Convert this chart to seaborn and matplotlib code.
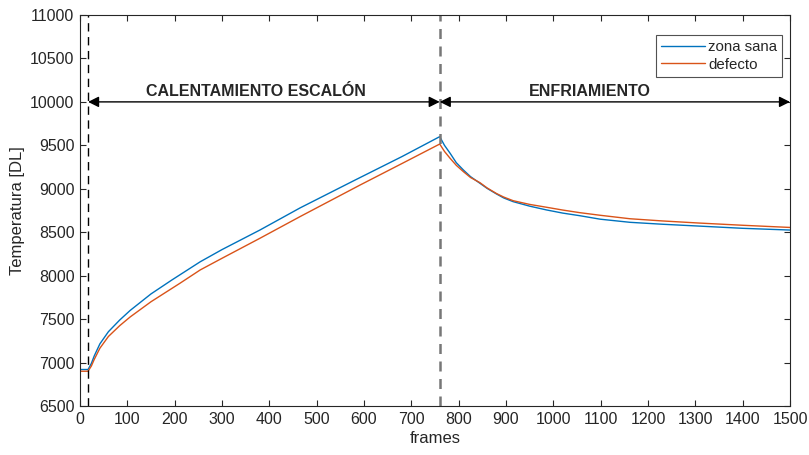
import pandas as pd
import matplotlib
matplotlib.use("Agg")
import matplotlib.pyplot as plt
import seaborn as sns

# values (frames / temperature in DL)
frames_sana = [0, 17, 24, 30, 42, 60, 84, 106, 150, 194, 254, 300, 380, 465, 581, 680, 760,
               770, 782, 795, 810, 825, 845, 860, 880, 895, 915, 950, 986, 1020, 1056, 1099,
               1162, 1230, 1310, 1400, 1500]
temp_sana = [6920, 6920, 6990, 7075, 7215, 7355, 7490, 7600, 7790, 7950, 8160, 8300, 8525,
             8780, 9100, 9370, 9600, 9500, 9408, 9300, 9216, 9140, 9063, 9005, 8940, 8895,
             8852, 8800, 8756, 8720, 8690, 8650, 8614, 8592, 8570, 8545, 8525]

frames_defecto = [0, 17, 24, 30, 42, 60, 84, 106, 150, 211, 254, 300, 380, 465, 592, 680, 760,
                  770, 782, 795, 810, 825, 845, 860, 880, 895, 915, 950, 986, 1020, 1056, 1099,
                  1162, 1230, 1310, 1400, 1500]
temp_defecto = [6900, 6900, 6960, 7035, 7165, 7300, 7425, 7525, 7700, 7912, 8066, 8200, 8430,
                8680, 9044, 9290, 9515, 9430, 9350, 9270, 9197, 9130, 9070, 9010, 8945, 8905,
                8863, 8820, 8787, 8755, 8725, 8695, 8655, 8630, 8605, 8580, 8555]

x_start = 17
x_peak = 760
x_end = 1500
y_arrow = 10000

sana = pd.DataFrame({"frames": frames_sana, "temp": temp_sana})
defecto = pd.DataFrame({"frames": frames_defecto, "temp": temp_defecto})

sns.set_theme(style="ticks")
plt.rcParams['font.family'] = ['Liberation Sans', 'DejaVu Sans']

fig = plt.figure(figsize=(8.09, 4.55), dpi=100)
ax = fig.add_axes([80 / 809, 1 - 406 / 455, 710 / 809, 391 / 455])

sns.lineplot(data=sana, x="frames", y="temp", color="#0072BD", lw=1.0, label="zona sana", ax=ax)
sns.lineplot(data=defecto, x="frames", y="temp", color="#D95319", lw=1.0, label="defecto", ax=ax)

ax.axvline(x_start, color="black", ls=(0, (6, 4)), lw=1.0)
ax.axvline(x_peak, color="#777777", ls=(0, (4, 3)), lw=1.8)

arrow_kw = dict(arrowstyle="<|-|>", color="black", lw=1.0, mutation_scale=16, shrinkA=0, shrinkB=0)
ax.annotate("", xy=(x_start, y_arrow), xytext=(x_peak, y_arrow), arrowprops=arrow_kw)
ax.annotate("", xy=(x_peak, y_arrow), xytext=(x_end, y_arrow), arrowprops=arrow_kw)
ax.text(372, y_arrow + 30, "CALENTAMIENTO ESCALÓN", ha="center", va="bottom", fontsize=11.5,
        fontweight="bold")
ax.text(1078, y_arrow + 30, "ENFRIAMIENTO", ha="center", va="bottom", fontsize=11.5,
        fontweight="bold")

ax.set_xlim(0, 1500)
ax.set_ylim(6500, 11000)
ax.set_xticks(range(0, 1501, 100))
ax.set_yticks(range(6500, 11001, 500))
ax.set_xlabel("frames", fontsize=12, color="#262626", labelpad=3)
ax.set_ylabel("Temperatura [DL]", fontsize=12, color="#262626", labelpad=4)
ax.tick_params(direction="in", top=True, right=True, length=4, width=0.8, labelsize=11.5,
               colors="#262626", pad=4)
for s in ax.spines.values():
    s.set_visible(True)
    s.set_color("#262626")
    s.set_linewidth(0.8)

leg = ax.legend(loc="upper right", fontsize=10.8, frameon=True, fancybox=False,
                edgecolor="#262626", handlelength=2.9, borderaxespad=0.0, labelspacing=0.25,
                handletextpad=0.2, borderpad=0.35, bbox_to_anchor=(0.989, 0.95))
leg.get_frame().set_linewidth(0.8)

fig.savefig("out.png", dpi=100)
